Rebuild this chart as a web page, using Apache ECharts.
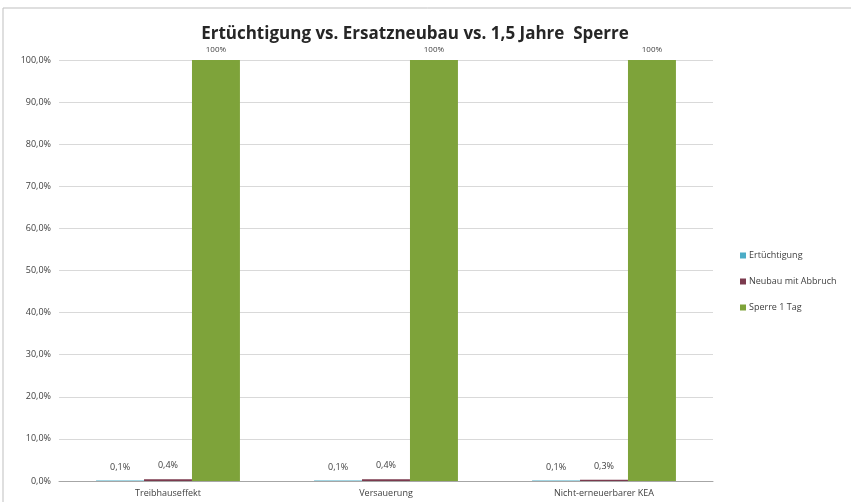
<!DOCTYPE html>
<html><head><meta charset="utf-8">
<script src="https://cdn.jsdelivr.net/npm/echarts@6/dist/echarts.min.js"></script>
<style>html,body{margin:0;padding:0;background:#fff}#c{width:851px;height:502px}</style>
</head><body><div id="c"></div>
<script>
const categories = ['Treibhauseffekt', 'Versauerung', 'Nicht-erneuerbarer KEA'];
const ertuechtigung = [0.1, 0.1, 0.1];
const neubau = [0.4, 0.4, 0.3];
const sperre = [100, 100, 100];
const yTicks = [0, 10, 20, 30, 40, 50, 60, 70, 80, 90, 100];

const chart = echarts.init(document.getElementById('c'));
const fmtPct = v => v.toFixed(1).replace('.', ',') + '%';
const labelStyle = {show: true, position: 'top', fontSize: 9, color: '#404040', fontFamily: 'Open Sans', distance: 9};
chart.setOption({
  animation: false,
  title: {text: 'Ertüchtigung vs. Ersatzneubau vs. 1,5 Jahre  Sperre', left: 410, textAlign: 'center', top: 21,
    textStyle: {fontFamily: 'Open Sans', fontWeight: 'bold', fontSize: 17, color: '#262626'}},
  graphic: [{type: 'rect', shape: {x: 3, y: 8, width: 860, height: 500}, style: {fill: 'none', stroke: '#bfbfbf', lineWidth: 1}, silent: true}],
  legend: {orient: 'vertical', left: 735, top: 246, itemWidth: 6, itemHeight: 6, itemGap: 17, icon: 'rect',
    textStyle: {fontFamily: 'Open Sans', fontSize: 9, color: '#404040', padding: [0, 0, 0, -2]}},
  grid: {left: 59, right: 138, top: 60, bottom: 21},
  xAxis: {type: 'category', data: categories,
    axisLine: {lineStyle: {color: '#a6a6a6'}}, axisTick: {show: false},
    axisLabel: {fontFamily: 'Open Sans', fontSize: 9, color: '#404040', margin: 8}},
  yAxis: {type: 'value', min: 0, max: 100, interval: 10,
    axisLabel: {formatter: v => yTicks.includes(v) ? fmtPct(v) : '', fontFamily: 'Open Sans', fontSize: 9, color: '#404040', margin: 8},
    splitLine: {lineStyle: {color: '#d9d9d9'}}, axisLine: {show: false}, axisTick: {show: false}},
  series: [
    {name: 'Ertüchtigung', type: 'bar', data: ertuechtigung, barGap: '0%', barCategoryGap: '34%',
     itemStyle: {color: '#4bacc6'}, label: Object.assign({}, labelStyle, {formatter: p => fmtPct(p.value)})},
    {name: 'Neubau mit Abbruch', type: 'bar', data: neubau,
     itemStyle: {color: '#7b3a4e'}, label: Object.assign({}, labelStyle, {formatter: p => fmtPct(p.value)})},
    {name: 'Sperre 1 Tag', type: 'bar', data: sperre,
     itemStyle: {color: '#7ea33a'}, label: Object.assign({}, labelStyle, {distance: 6, fontSize: 8, formatter: p => p.value + '%'})}
  ]
});
</script></body></html>
